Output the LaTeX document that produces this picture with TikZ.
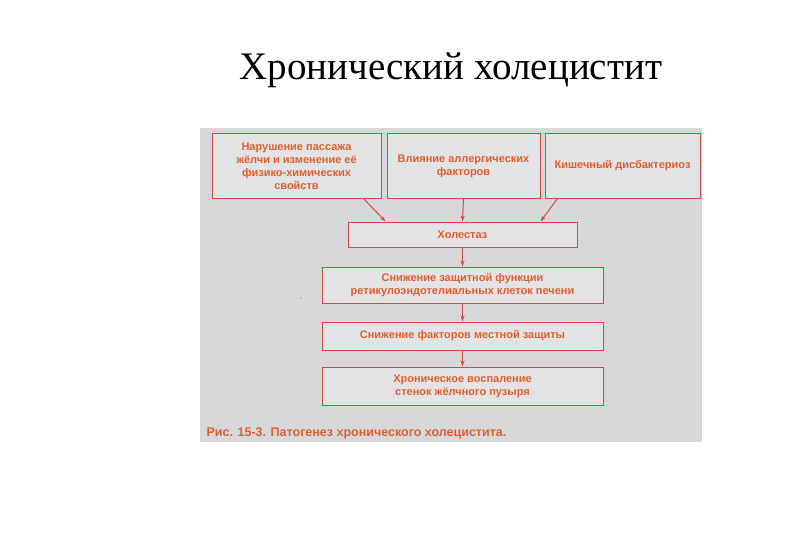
\documentclass[tikz,border=0pt]{standalone}
\usepackage{fontspec}
\setmainfont{Liberation Serif}
\newfontfamily\boxfont{Liberation Sans}
\usetikzlibrary{positioning,arrows.meta}

\definecolor{panelgray}{RGB}{216,216,219}
\definecolor{boxgray}{RGB}{227,227,230}
\definecolor{boxred}{RGB}{205,75,65}
\definecolor{textred}{RGB}{222,95,45}

\tikzset{
  stage/.style={draw=boxred, line width=1pt, fill=boxgray, inner sep=0pt,
    align=center, text=textred,
    font=\boxfont\bfseries\fontsize{11}{13}\selectfont},
  arr/.style={-{Stealth[length=6pt,width=4pt]}, draw=boxred, line width=1pt}
}

\begin{document}
\begin{tikzpicture}[x=1pt,y=-1pt]
        \useasboundingbox (0,0) rectangle (810,540);

        % Title
        \node[font=\fontsize{39}{44}\selectfont] (title) at (451,70) {Хронический холецистит};

        % Gray panel of the figure
        \fill[panelgray] (200,128) rectangle (702,442);
        \fill[gray] (301,298) circle (0.6pt);

        % Causes
        \node[stage, minimum width=169pt, minimum height=64pt] (pass) at (296.5,166)
          {Нарушение пассажа\\жёлчи и изменение её\\физико-химических\\свойств};
        \node[stage, minimum width=153pt, minimum height=64pt] (allerg) at (463.5,166)
          {Влияние аллергических\\факторов};
        \node[stage, minimum width=155pt, minimum height=64pt] (dysb) at (622.5,166)
          {Кишечный дисбактериоз};

        % Chain
        \node[stage, minimum width=229pt, minimum height=25pt] (chol) at (462.5,234.5) {Холестаз};
        \node[stage, minimum width=281pt, minimum height=36pt] (protect) at (462.5,285)
          {Снижение защитной функции\\ретикулоэндотелиальных клеток печени};
        \node[stage, minimum width=281pt, minimum height=28pt] (local) at (462.5,336)
          {Снижение факторов местной защиты};
        \node[stage, minimum width=281pt, minimum height=38pt] (inflam) at (462.5,386)
          {Хроническое воспаление\\стенок жёлчного пузыря};

        % Arrows
        \draw[arr] ([xshift=-18pt]pass.south east) -- ([xshift=38pt]chol.north west);
        \draw[arr] (allerg.south) -- (chol.north);
        \draw[arr] ([xshift=13pt]dysb.south west) -- ([xshift=-37pt]chol.north east);
        \draw[arr] (chol.south) -- (protect.north);
        \draw[arr] (protect.south) -- (local.north);
        \draw[arr] (local.south) -- (inflam.north);

        % Caption
        \node[anchor=west, text=textred, font=\boxfont\bfseries\fontsize{12.5}{14}\selectfont]
          (capt) at (203,433) {Рис. 15-3. Патогенез хронического холецистита.};
\end{tikzpicture}
\end{document}
